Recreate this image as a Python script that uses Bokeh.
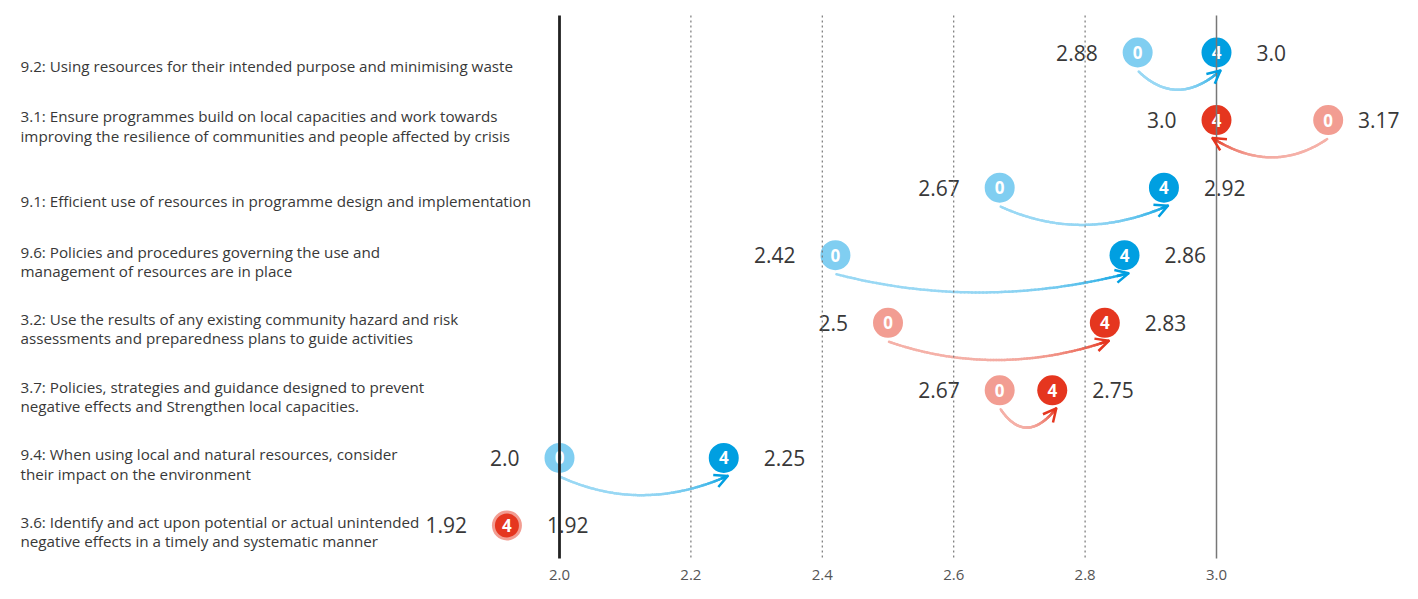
import numpy as np
from bokeh.plotting import figure
from bokeh.models import Range1d, Arrow, OpenHead
from bokeh.core.properties import value
from bokeh.embed import file_html
from bokeh.resources import INLINE

# ---------------- data ----------------
labels = [
    "9.2: Using resources for their intended purpose and minimising waste",
    "3.1: Ensure programmes build on local capacities and work towards\nimproving the resilience of communities and people affected by crisis",
    "9.1: Efficient use of resources in programme design and implementation",
    "9.6: Policies and procedures governing the use and\nmanagement of resources are in place",
    "3.2: Use the results of any existing community hazard and risk\nassessments and preparedness plans to guide activities",
    "3.7: Policies, strategies and guidance designed to prevent\nnegative effects and Strengthen local capacities.",
    "9.4: When using local and natural resources, consider\ntheir impact on the environment",
    "3.6: Identify and act upon potential or actual unintended\nnegative effects in a timely and systematic manner",
]
score_0 = [2.88, 3.17, 2.67, 2.42, 2.5, 2.67, 2.0, 1.92]
score_4 = [3.0, 3.0, 2.92, 2.86, 2.83, 2.75, 2.25, 1.92]
series = ["9", "3", "9", "9", "3", "3", "9", "3"]
point_names = ["0", "4"]
tick_values = [2.0, 2.2, 2.4, 2.6, 2.8, 3.0]
tick_labels = ["2.0", "2.2", "2.4", "2.6", "2.8", "3.0"]

# ---------------- styles ----------------
LIGHT = {"9": "#80cef1", "3": "#f29d92"}
DARK = {"9": "#009fe1", "3": "#e5361f"}
TEXT = "#383838"
FONT = "Open Sans"

W, H = 1402, 583
PXX = 657.0          # pixels per x unit
PXY = 67.57          # pixels per row
X0 = 2.0 - 559 / PXX
X1 = X0 + W / PXX
Y_TOP = 52 / PXY

p = figure(width=W, height=H, output_backend="svg", toolbar_location=None,
           x_range=Range1d(X0, X1),
           y_range=Range1d(Y_TOP - H / PXY, Y_TOP),
           x_axis_type=None, y_axis_type=None, min_border=0)
p.outline_line_color = None
p.grid.visible = False
p.background_fill_color = "white"
p.border_fill_color = "white"

n = len(labels)
rows = -np.arange(n, dtype=float)


def hex2rgb(h):
    h = h.lstrip("#")
    return np.array([int(h[i:i + 2], 16) for i in (0, 2, 4)], dtype=float)


def rgb2hex(c):
    c = np.clip(np.round(c), 0, 255).astype(int)
    return "#%02x%02x%02x" % tuple(c)


# ---------------- curved arrows ----------------
for i in range(n):
    s0, s4, y = score_0[i], score_4[i], rows[i]
    if s0 == s4:
        continue
    d = 1 if s4 > s0 else -1
    P0 = np.array([s0 + d * 1 / PXX, y - 19 / PXY])
    P2 = np.array([s4 + d * 4 / PXX, y - 18 / PXY])
    C = np.array([(s0 + s4) / 2, y - 56 / PXY])
    t = np.linspace(0, 1, 80)[:, None]
    pts = (1 - t) ** 2 * P0 + 2 * (1 - t) * t * C + t ** 2 * P2
    lc = hex2rgb(LIGHT[series[i]])
    lc = lc + (255 - lc) * 0.2
    dc = hex2rgb(DARK[series[i]])
    tm = (t[:-1, 0] + t[1:, 0]) / 2
    w = tm ** 5
    cols = [rgb2hex(lc * (1 - a) + dc * a) for a in w]
    p.segment(x0=pts[:-1, 0], y0=pts[:-1, 1], x1=pts[1:, 0], y1=pts[1:, 1],
              line_color=cols, line_width=2.5, line_cap="round")
    p.add_layout(Arrow(end=OpenHead(size=13, line_color=DARK[series[i]], line_width=2.5),
                       x_start=pts[-4, 0], y_start=pts[-4, 1],
                       x_end=pts[-1, 0], y_end=pts[-1, 1],
                       line_color=DARK[series[i]], line_width=2.5))

# ---------------- circles ----------------
light_cols = [LIGHT[s] for s in series]
dark_cols = [DARK[s] for s in series]
size4 = [24 if a == b else 30 for a, b in zip(score_0, score_4)]

p.scatter(x=score_0, y=rows, size=30, fill_color=light_cols, line_color=None)
p.text(x=score_0, y=rows, text=[point_names[0]] * n, text_color="white",
       text_font=value(FONT), text_font_style="bold", text_font_size="17px",
       text_align="center", text_baseline="middle")
p.scatter(x=score_4, y=rows, size=size4, fill_color=dark_cols, line_color=None)
p.text(x=score_4, y=rows, text=[point_names[1]] * n, text_color="white",
       text_font=value(FONT), text_font_style="bold", text_font_size="17px",
       text_align="center", text_baseline="middle")

# ---------------- value labels ----------------
lx, ly, lt, rx, ry, rt = [], [], [], [], [], []
for i in range(n):
    s0, s4, y = score_0[i], score_4[i], rows[i]
    if s4 >= s0:
        lx.append(s0 - 40 / PXX); ly.append(y); lt.append(str(s0))
        rx.append(s4 + 40 / PXX); ry.append(y); rt.append(str(s4))
    else:
        rx.append(s0 + 40 / PXX); ry.append(y); rt.append(str(s0))
        lx.append(s4 - 40 / PXX); ly.append(y); lt.append(str(s4))
# keep right-hand labels inside the canvas
fx, fy, ft = [], [], []
for x, y, t in list(zip(rx, ry, rt)):
    if x + len(t) * 11.5 / PXX > X1:
        fx.append(X1 - 3 / PXX); fy.append(y); ft.append(t)
        idx = rt.index(t)
        rx.pop(idx); ry.pop(idx); rt.pop(idx)
p.text(x=lx, y=ly, text=lt, text_color=TEXT, text_font=value(FONT),
       text_font_size="21px", text_align="right", text_baseline="middle")
p.text(x=rx, y=ry, text=rt, text_color=TEXT, text_font=value(FONT),
       text_font_size="21px", text_align="left", text_baseline="middle")
p.text(x=fx, y=fy, text=ft, text_color=TEXT, text_font=value(FONT),
       text_font_size="21px", text_align="right", text_baseline="middle")

# ---------------- row labels ----------------
lab_y = [r - (6 if "\n" in s else 13) / PXY for r, s in zip(rows, labels)]
p.text(x=[X0 + 20 / PXX] * n, y=lab_y, text=labels, text_color=TEXT,
       text_font=value(FONT), text_font_size="15.2px", text_align="left",
       text_baseline="middle", text_line_height=0.97)

# ---------------- vertical reference lines ----------------
y_top_line = Y_TOP - 15 / PXY
y_bot_line = Y_TOP - 558 / PXY
mid_ticks = [v for v in tick_values if v not in (tick_values[0], tick_values[-1])]
p.segment(x0=mid_ticks, y0=y_top_line, x1=mid_ticks, y1=y_bot_line,
          line_color="#777777", line_width=1.2, line_dash="2 3")
p.segment(x0=[tick_values[0]], y0=y_top_line, x1=[tick_values[0]], y1=y_bot_line,
          line_color="#222222", line_width=2.8)
p.segment(x0=[tick_values[-1]], y0=y_top_line, x1=[tick_values[-1]], y1=y_bot_line,
          line_color="#777777", line_width=1.5)

# ---------------- tick labels ----------------
p.text(x=tick_values, y=[Y_TOP - 574 / PXY] * len(tick_values), text=tick_labels,
       text_color="#555555", text_font=value(FONT), text_font_size="15px",
       text_align="center", text_baseline="middle")

open("out.html", "w").write(file_html(p, INLINE))
